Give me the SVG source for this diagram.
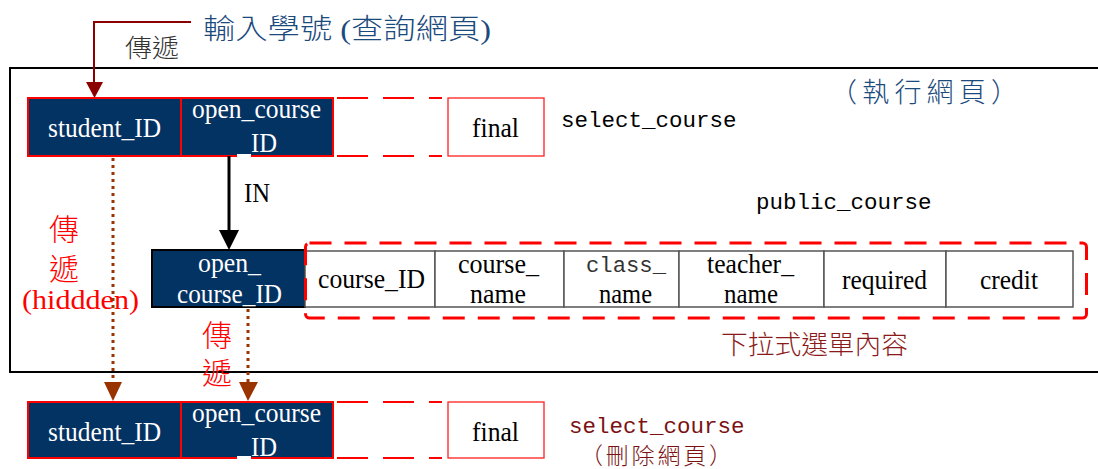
<svg xmlns="http://www.w3.org/2000/svg" width="1098" height="469" viewBox="0 0 1098 469">
<style>
.serif{font-family:"Liberation Serif","Noto Sans CJK TC",serif;font-size:28px}
.mono{font-family:"Liberation Mono","Noto Sans CJK TC",monospace;font-size:22.5px}
.cjk{font-family:"Noto Sans CJK TC",sans-serif;font-weight:300}
.white{fill:#ffffff}
.blk{fill:#000000}
.navy{fill:#033363}
.cell{fill:#ffffff;stroke:#555555;stroke-width:1.5}
.redbox{stroke:#ff0000;stroke-width:2}
.dash{stroke:#ff0000;stroke-width:2;stroke-dasharray:31 15;fill:none}
.dot{stroke:#993300;stroke-width:3;stroke-dasharray:3 4;fill:none}
</style>
<rect width="1098" height="469" fill="#ffffff"/>
<g id="frame">
<rect x="10" y="68" width="1100" height="304" fill="none" stroke="#000" stroke-width="2"/>
</g>
<g id="title">
<text class="serif" x="203" y="39" font-size="32" font-weight="300" textLength="288" lengthAdjust="spacingAndGlyphs" fill="#1B4A7D">輸入學號 (查詢網頁)</text>
<text class="cjk" x="125" y="57" font-size="25" textLength="54" lengthAdjust="spacingAndGlyphs" fill="#333333">傳遞</text>
<text class="cjk" x="830" y="102" font-size="27" textLength="188" lengthAdjust="spacing" fill="#1B4A7D">（執行網頁）</text>
</g>
<g id="select_course_top">
<rect class="navy redbox" x="28" y="98" width="153" height="58"/>
<rect class="navy redbox" x="181" y="98" width="152" height="58"/>
<rect x="237" y="154" width="14" height="3" fill="#ffffff"/>
<line class="dash" x1="333" y1="98" x2="442" y2="98" stroke-dashoffset="-4"/>
<line class="dash" x1="333" y1="156" x2="442" y2="156" stroke-dashoffset="-4"/>
<rect x="448" y="98" width="96" height="58" fill="#fff" stroke="#ff2020" stroke-width="1.3"/>
<text class="serif white" x="48" y="137" textLength="113" lengthAdjust="spacingAndGlyphs">student_ID</text>
<text class="serif white" x="192" y="118" textLength="129" lengthAdjust="spacingAndGlyphs">open_course</text>
<text class="serif white" x="251" y="152" textLength="26" lengthAdjust="spacingAndGlyphs">ID</text>
<text class="serif blk" x="472" y="137" textLength="47" lengthAdjust="spacingAndGlyphs">final</text>
<text class="mono blk" x="561" y="127">select_course</text>
</g>
<g id="public_course">
<text class="mono blk" x="756" y="209">public_course</text>
<rect x="152" y="250" width="153" height="57" fill="#033363" stroke="#000" stroke-width="2"/>
<text class="serif white" x="198" y="272" textLength="63" lengthAdjust="spacingAndGlyphs">open_</text>
<text class="serif white" x="177" y="303" textLength="105" lengthAdjust="spacingAndGlyphs">course_ID</text>
<rect class="cell" x="305" y="251" width="130" height="56"/>
<rect class="cell" x="435" y="251" width="129" height="56"/>
<rect class="cell" x="564" y="251" width="115" height="56"/>
<rect class="cell" x="679" y="251" width="145" height="56"/>
<rect class="cell" x="824" y="251" width="122" height="56"/>
<rect class="cell" x="946" y="251" width="127" height="56"/>
<text class="serif blk" x="318" y="288" textLength="107" lengthAdjust="spacingAndGlyphs">course_ID</text>
<text class="serif blk" x="458" y="273" textLength="81" lengthAdjust="spacingAndGlyphs">course_</text>
<text class="serif blk" x="470" y="303" textLength="56" lengthAdjust="spacingAndGlyphs">name</text>
<text class="mono" x="586" y="272" font-size="22" fill="#333" textLength="80" lengthAdjust="spacingAndGlyphs">class_</text>
<text class="serif blk" x="599" y="303" textLength="53" lengthAdjust="spacingAndGlyphs">name</text>
<text class="serif blk" x="707" y="273" textLength="87" lengthAdjust="spacingAndGlyphs">teacher_</text>
<text class="serif blk" x="724" y="303" textLength="54" lengthAdjust="spacingAndGlyphs">name</text>
<text class="serif blk" x="842" y="289" textLength="85" lengthAdjust="spacingAndGlyphs">required</text>
<text class="serif blk" x="980" y="289" textLength="58" lengthAdjust="spacingAndGlyphs">credit</text>
<rect x="305.5" y="243" width="781" height="75" rx="4" fill="none" stroke="#ff0000" stroke-width="3" stroke-dasharray="22 13"/>
<text class="cjk" x="721" y="354" font-size="26" textLength="187" lengthAdjust="spacingAndGlyphs" fill="#8B1A1A">下拉式選單內容</text>
</g>
<g id="labels">
<text class="cjk" x="49" y="240" font-size="30" fill="#ff0000">傳</text>
<text class="cjk" x="49" y="280" font-size="30" fill="#ff0000">遞</text>
<text class="serif" x="22" y="309" font-size="30" fill="#ff0000" textLength="117" lengthAdjust="spacingAndGlyphs">(hiddden)</text>
<text class="cjk" x="202" y="346" font-size="30" fill="#ff0000">傳</text>
<text class="cjk" x="202" y="384" font-size="30" fill="#ff0000">遞</text>
<text class="serif blk" x="244" y="202" textLength="26" lengthAdjust="spacingAndGlyphs">IN</text>
</g>
<g id="select_course_bottom">
<rect class="navy redbox" x="28" y="402" width="153" height="56"/>
<rect class="navy redbox" x="181" y="402" width="152" height="56"/>
<rect x="237" y="456" width="14" height="3" fill="#ffffff"/>
<line class="dash" x1="333" y1="402" x2="442" y2="402" stroke-dashoffset="-4"/>
<line class="dash" x1="333" y1="458" x2="442" y2="458" stroke-dashoffset="-4"/>
<rect x="448" y="402" width="96" height="56" fill="#fff" stroke="#ff2020" stroke-width="1.3"/>
<text class="serif white" x="48" y="441" textLength="113" lengthAdjust="spacingAndGlyphs">student_ID</text>
<text class="serif white" x="192" y="422" textLength="129" lengthAdjust="spacingAndGlyphs">open_course</text>
<text class="serif white" x="251" y="456" textLength="26" lengthAdjust="spacingAndGlyphs">ID</text>
<text class="serif blk" x="472" y="441" textLength="47" lengthAdjust="spacingAndGlyphs">final</text>
<text class="mono" x="569" y="433" fill="#7B1113">select_course</text>
<text class="cjk" x="580" y="464" font-size="23" fill="#7B1113" textLength="152" lengthAdjust="spacing">（刪除網頁）</text>
</g>
<g id="connectors">
<path d="M191,22 H94 V84" fill="none" stroke="#8B0000" stroke-width="2"/>
<polygon points="86,82 103,82 94.5,98" fill="#8B0000"/>
<line x1="229" y1="156" x2="229" y2="232" stroke="#000" stroke-width="3"/>
<polygon points="219,230 239,230 229,250" fill="#000"/>
<line class="dot" x1="113" y1="158" x2="113" y2="384"/>
<polygon points="104,382 122,382 113,401" fill="#993300"/>
<line class="dot" x1="248" y1="309" x2="248" y2="384"/>
<polygon points="239,382 258,382 248,401" fill="#993300"/>
</g>
</svg>
